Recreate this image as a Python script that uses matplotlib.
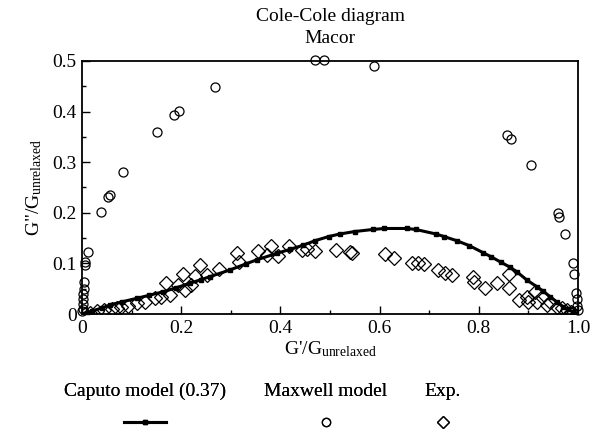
import numpy as np
import matplotlib
matplotlib.use('Agg')
import matplotlib.pyplot as plt
from matplotlib.lines import Line2D
from matplotlib.ticker import MultipleLocator, FuncFormatter

plt.rcParams['font.family'] = ['Liberation Serif', 'DejaVu Serif']
plt.rcParams['mathtext.fontset'] = 'custom'
plt.rcParams['mathtext.rm'] = 'Liberation Serif'
plt.rcParams['mathtext.it'] = 'Liberation Serif:italic'

# Caputo model (0.37)
caputo_x = [0.0, 0.02, 0.04, 0.056, 0.08, 0.11, 0.135, 0.164, 0.19, 0.218, 0.24, 0.258,
            0.298, 0.33, 0.352, 0.393, 0.42, 0.446, 0.47, 0.497, 0.519, 0.55, 0.586,
            0.609, 0.655, 0.673, 0.714, 0.73, 0.755, 0.781, 0.809, 0.825, 0.845, 0.862,
            0.876, 0.897, 0.917, 0.93, 0.944, 0.957, 0.97, 0.98, 0.99, 0.997]
caputo_y = [0.0, 0.006, 0.012, 0.018, 0.024, 0.031, 0.037, 0.044, 0.052, 0.061, 0.068, 0.074,
            0.087, 0.099, 0.107, 0.12, 0.128, 0.136, 0.145, 0.153, 0.158, 0.163, 0.167,
            0.169, 0.169, 0.167, 0.158, 0.153, 0.145, 0.135, 0.121, 0.113, 0.102, 0.093,
            0.084, 0.067, 0.054, 0.045, 0.034, 0.024, 0.014, 0.009, 0.004, 0.001]

# Maxwell model
maxwell_x = [0.0005, 0.001, 0.001, 0.002, 0.002, 0.003, 0.004, 0.005, 0.006, 0.011, 0.038,
             0.053, 0.056, 0.083, 0.150, 0.185, 0.196, 0.268, 0.470, 0.488, 0.589, 0.856,
             0.864, 0.906, 0.960, 0.962, 0.974, 0.989, 0.992, 0.995, 0.997, 0.998, 0.999]
maxwell_y = [0.005, 0.01, 0.02, 0.03, 0.04, 0.05, 0.063, 0.097, 0.103, 0.122, 0.202,
             0.231, 0.235, 0.281, 0.359, 0.393, 0.401, 0.449, 0.501, 0.501, 0.490, 0.354,
             0.345, 0.294, 0.200, 0.192, 0.158, 0.101, 0.080, 0.041, 0.03, 0.015, 0.008]

# Experimental
exp_x = [0.005, 0.015, 0.03, 0.045, 0.06, 0.07, 0.079, 0.093, 0.110, 0.126, 0.147, 0.160,
         0.177, 0.170, 0.194, 0.207, 0.220, 0.204, 0.227, 0.237, 0.251, 0.275, 0.313, 0.317,
         0.355, 0.372, 0.380, 0.394, 0.418, 0.443, 0.453, 0.470, 0.512, 0.540, 0.544, 0.610,
         0.628, 0.666, 0.677, 0.690, 0.718, 0.732, 0.745, 0.789, 0.790, 0.813, 0.836, 0.860,
         0.860, 0.880, 0.897, 0.900, 0.913, 0.917, 0.927, 0.937, 0.944, 0.957, 0.967, 0.977,
         0.985, 0.990]
exp_y = [0.001, 0.003, 0.005, 0.007, 0.009, 0.011, 0.013, 0.016, 0.021, 0.024, 0.031, 0.034,
         0.038, 0.061, 0.057, 0.047, 0.057, 0.080, 0.075, 0.097, 0.077, 0.088, 0.120, 0.102,
         0.124, 0.117, 0.134, 0.114, 0.134, 0.126, 0.128, 0.124, 0.126, 0.123, 0.120, 0.118,
         0.111, 0.101, 0.101, 0.099, 0.087, 0.082, 0.078, 0.074, 0.064, 0.051, 0.062, 0.051,
         0.080, 0.028, 0.034, 0.024, 0.044, 0.024, 0.034, 0.018, 0.024, 0.014, 0.011, 0.008,
         0.004, 0.002]

fig = plt.figure(figsize=(6.04, 4.29), dpi=100)
ax = fig.add_axes([0.136, 0.268, 0.821, 0.59])

ax.plot(maxwell_x, maxwell_y, 'o', ms=6.5, mfc='none', mec='black', mew=0.9, clip_on=False)
ax.plot(exp_x, exp_y, 'D', ms=7.5, mfc='none', mec='black', mew=0.9)
ax.plot(caputo_x, caputo_y, '-s', color='black', lw=2.2, ms=3)

ax.set_xlim(0, 1)
ax.set_ylim(0, 0.5)
ax.xaxis.set_major_locator(MultipleLocator(0.2))
ax.xaxis.set_minor_locator(MultipleLocator(0.1))
ax.yaxis.set_major_locator(MultipleLocator(0.1))
ax.yaxis.set_minor_locator(MultipleLocator(0.05))
fmt = FuncFormatter(lambda v, p: '0' if abs(v) < 1e-9 else '%.1f' % v)
ax.xaxis.set_major_formatter(fmt)
ax.yaxis.set_major_formatter(fmt)
ax.tick_params(which='both', direction='in', labelsize=14, width=1)
ax.tick_params(which='major', length=6, pad=4)
ax.tick_params(which='minor', length=3)
for s in ax.spines.values():
    s.set_linewidth(1.3)

ax.set_xlabel(r"G'/G$_{\mathrm{unrelaxed}}$", fontsize=14, labelpad=2)
ax.set_ylabel(r'G"/G$_{\mathrm{unrelaxed}}$', fontsize=14, labelpad=6)
ax.set_title('Cole-Cole diagram\nMacor', fontsize=14, linespacing=1.35, pad=13)

h_cap = Line2D([], [], color='black', lw=2.2, marker='s', ms=3)
h_max = Line2D([], [], ls='none', marker='o', ms=6, mfc='none', mec='black', mew=0.9)
h_exp = Line2D([], [], ls='none', marker='D', ms=6.5, mfc='none', mec='black', mew=0.9)
for h, lab, xc in [(h_cap, 'Caputo model (0.37)', 145 / 604),
                   (h_max, 'Maxwell model', 326 / 604),
                   (h_exp, 'Exp.', 443 / 604)]:
    leg = fig.legend([h], [''], title=lab, loc='upper center', bbox_to_anchor=(xc, 1 - 373 / 429),
                     frameon=False, fontsize=14, title_fontsize=14, handlelength=2.2,
                     handletextpad=0, labelspacing=0.8, borderpad=0)
    fig.add_artist(leg)

fig.savefig('out.png', dpi=100)
